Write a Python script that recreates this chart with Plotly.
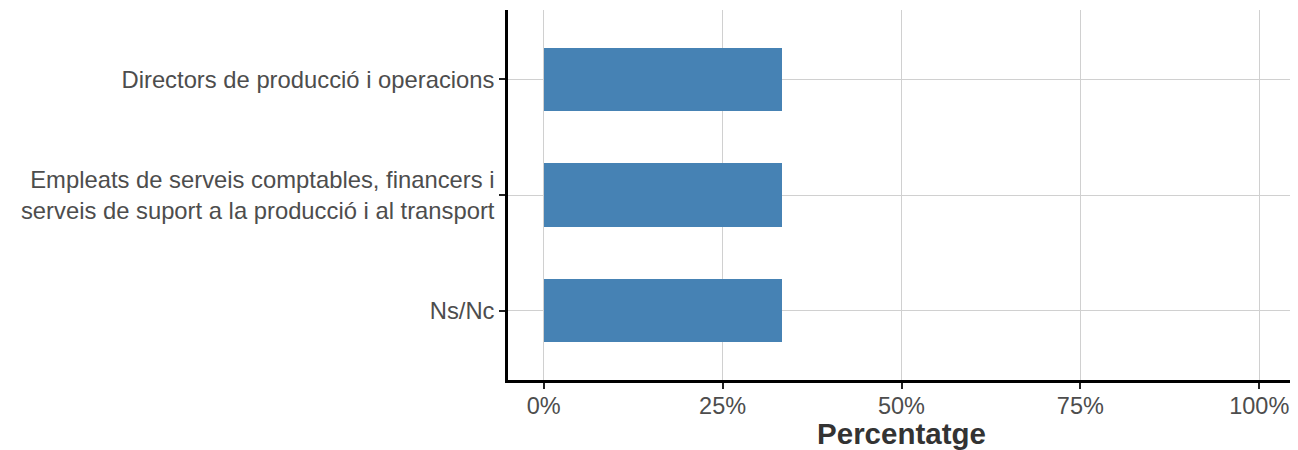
import plotly.graph_objects as go

categories = [
    "Directors de producció i operacions",
    "Empleats de serveis comptables, financers i<br>serveis de suport a la producció i al transport",
    "Ns/Nc",
]
values = [33.333, 33.333, 33.333]
x_ticks = [0, 25, 50, 75, 100]
x_tick_labels = ["0%", "25%", "50%", "75%", "100%"]

fig = go.Figure(
    go.Bar(
        x=values,
        y=categories,
        orientation="h",
        marker=dict(color="#4682B4", line=dict(width=0)),
        width=0.55,
    )
)

fig.update_layout(
    width=1290,
    height=442,
    margin=dict(l=500, r=3, t=2, b=70),
    plot_bgcolor="white",
    paper_bgcolor="white",
    showlegend=False,
    font=dict(family="Liberation Sans, Arial, sans-serif", size=23.8, color="#4d4d4d"),
    bargap=0,
)

axis_common = dict(
    showgrid=True,
    gridcolor="#d0d0d0",
    gridwidth=1,
    zeroline=False,
    showline=True,
    linecolor="black",
    linewidth=2.5,
    ticks="outside",
    ticklen=6,
    tickwidth=2,
    tickcolor="#222222",
)

fig.update_xaxes(
    range=[-5, 105],
    tickvals=x_ticks,
    ticktext=x_tick_labels,
    tickfont=dict(size=23.5, color="#4d4d4d"),
    ticklabelstandoff=-3,
    title=dict(text="<b>Percentatge</b>", font=dict(size=29.5, color="#333333"), standoff=0),
    **axis_common,
)

fig.update_yaxes(
    categoryorder="array",
    categoryarray=categories[::-1],
    range=[-0.6, 2.6],
    tickfont=dict(size=23.8, color="#4d4d4d"),
    **axis_common,
)

fig.write_html("out.html")
